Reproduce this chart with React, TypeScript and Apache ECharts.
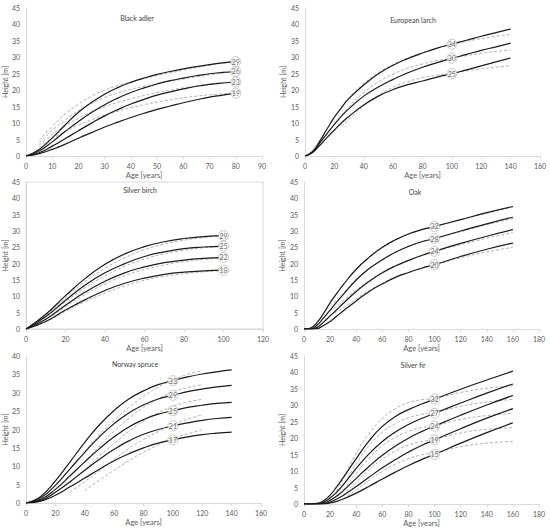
import React, { useEffect, useRef } from "react";
import * as echarts from "echarts";

// ---------- Black adler ----------
const alderAges = [0, 5, 10, 15, 20, 25, 30, 35, 40, 45, 50, 55, 60, 65, 70, 75, 80];
const alderS1 = [0, 2, 5.5, 9.5, 13.3, 16.3, 18.8, 20.8, 22.4, 23.7, 24.8, 25.7, 26.5, 27.2, 27.8, 28.3, 28.7];
const alderS2 = [0, 1.5, 4.3, 7.5, 10.5, 13.2, 15.6, 17.6, 19.3, 20.7, 21.9, 22.9, 23.7, 24.4, 25, 25.4, 25.7];
const alderS3 = [0, 1, 3, 5.3, 7.7, 10, 12.2, 14.1, 15.8, 17.2, 18.5, 19.5, 20.4, 21.2, 21.8, 22.2, 22.5];
const alderS4 = [0, 0.7, 2, 3.6, 5.4, 7.1, 8.8, 10.3, 11.7, 13, 14.2, 15.2, 16.2, 17.1, 17.9, 18.5, 19.1];
const alderDAges = [5, 10, 15, 20, 25, 30, 35, 40, 45, 50, 55, 60, 65, 70, 75, 80];
const alderD1 = [4.8, 9, 12.8, 15.8, 18.2, 20, 21.4, 22.5, 23.5, 24.5, 25.3, 26.1, 26.9, 27.6, 28.2, 28.7];
const alderD2 = [4, 7.8, 11, 13.8, 16, 17.8, 19.2, 20.3, 21.2, 22, 22.7, 23.4, 24.1, 24.7, 25.2, 25.7];
const alderD3 = [3.3, 6.5, 9.2, 11.5, 13.4, 15, 16.3, 17.4, 18.4, 19.3, 20, 20.7, 21.3, 21.9, 22.3, 22.6];
const alderD4 = [2.7, 5.3, 7.5, 9.4, 11, 12.4, 13.6, 14.7, 15.6, 16.4, 17.1, 17.7, 18.2, 18.6, 18.9, 19.1];
const alderLabelAge = 80;
const alderLabels = [29, 26, 23, 19];

// ---------- European larch ----------
const larchAges = [0, 5, 10, 15, 20, 25, 30, 40, 50, 60, 70, 80, 90, 100, 110, 120, 130, 140];
const larchS1 = [0, 1.3, 4.5, 8.2, 11.8, 14.8, 17.5, 21.6, 25, 27.6, 29.6, 31.3, 32.8, 34, 35.2, 36.4, 37.5, 38.6];
const larchS2 = [0, 1.2, 3.9, 6.8, 9.6, 12.2, 14.4, 18.2, 21, 23.3, 25.3, 27, 28.4, 29.7, 30.9, 32.1, 33.2, 34.3];
const larchS3 = [0, 1, 3.2, 5.6, 7.9, 10.1, 12.1, 15.5, 18.2, 20.2, 21.7, 22.8, 24, 25, 26.2, 27.4, 28.6, 29.8];
const larchDAges = [25, 30, 40, 50, 60, 70, 80, 90, 100, 110, 120, 130, 140];
const larchD1 = [15, 17.8, 22, 25.4, 27.8, 29.8, 31.4, 32.8, 33.9, 34.9, 35.7, 36.4, 37];
const larchD2 = [12.5, 15, 19.3, 22.5, 24.9, 26.7, 28, 29, 29.8, 30.5, 31.2, 31.8, 32.3];
const larchD3 = [9, 11.2, 15.3, 18.5, 20.9, 22.6, 23.8, 24.6, 25.2, 25.9, 26.5, 27, 27.5];
const larchLabelAge = 100;
const larchLabels = [34, 30, 25];

// ---------- Silver birch ----------
const birchAges = [0, 10, 20, 30, 40, 50, 60, 70, 80, 90, 100];
const birchS1 = [0, 4.5, 10.2, 15.5, 19.8, 23, 25.2, 26.7, 27.7, 28.3, 28.6];
const birchS2 = [0, 3.8, 8.8, 13.5, 17.2, 20, 22.2, 23.6, 24.6, 25.1, 25.4];
const birchS3 = [0, 3, 7.3, 11.3, 14.6, 17.2, 19, 20.3, 21.1, 21.6, 21.9];
const birchS4 = [0, 2.3, 5.8, 9, 11.8, 14, 15.6, 16.7, 17.4, 17.8, 18];
const birchD1 = [0, 4.2, 9.6, 14.6, 18.6, 21.8, 24.3, 26, 27.2, 28, 28.5];
const birchD2 = [0, 3.6, 8.3, 12.7, 16.2, 19.2, 21.4, 23, 24.1, 24.9, 25.3];
const birchD3 = [0, 2.9, 6.9, 10.6, 13.8, 16.3, 18.2, 19.6, 20.6, 21.3, 21.8];
const birchD4 = [0, 2.2, 5.4, 8.4, 11, 13.2, 14.9, 16.1, 16.9, 17.5, 17.9];
const birchLabelAge = 100;
const birchLabels = [29, 25, 22, 18];

// ---------- Oak ----------
const oakAges = [0, 5, 10, 15, 20, 25, 30, 40, 50, 60, 70, 80, 90, 100, 120, 140, 160];
const oakS1 = [0, 0.3, 2, 4.8, 8, 10.8, 13.5, 18.3, 22, 25, 27.3, 29.1, 30.4, 31.4, 33.5, 35.6, 37.5];
const oakS2 = [0, 0.1, 1.2, 3.4, 5.8, 8.2, 10.5, 15, 18.5, 21.2, 23.5, 25.3, 26.7, 27.7, 30, 32.2, 34.2];
const oakS3 = [0, 0, 0.5, 2.1, 4, 5.9, 7.8, 11.5, 14.6, 17.2, 19.3, 21, 22.5, 23.8, 26.2, 28.4, 30.4];
const oakS4 = [0, 0, 0.1, 1.1, 2.3, 3.9, 5.5, 8.6, 11.5, 13.8, 15.8, 17.3, 18.6, 19.7, 22.2, 24.4, 26.3];
const oakDAges = [20, 25, 30, 40, 50, 60, 70, 80, 90, 100, 120, 140, 160];
const oakD1 = [8.5, 11, 13.6, 18.2, 21.8, 24.8, 27.2, 29, 30.3, 31.3, 33.4, 35.4, 37.3];
const oakD2 = [7, 9, 11, 15.2, 18.6, 21.2, 23.4, 25.2, 26.6, 27.6, 29.8, 31.9, 33.8];
const oakD3 = [5.5, 7, 8.6, 11.9, 14.8, 17.3, 19.3, 21, 22.4, 23.7, 25.8, 27.8, 29.5];
const oakD4 = [4.2, 5.3, 6.5, 9.2, 11.8, 14, 15.9, 17.3, 18.6, 19.6, 21.8, 23.6, 25];
const oakLabelAge = 100;
const oakLabels = [32, 28, 24, 20];

// ---------- Norway spruce ----------
const spruceAges = [0, 10, 20, 30, 40, 50, 60, 70, 80, 90, 100, 110, 120, 130, 140];
const spruceS1 = [0, 1.8, 6, 11.2, 16.5, 21.3, 25.2, 28.3, 30.5, 32.2, 33.3, 34.3, 35.1, 35.7, 36.2];
const spruceS2 = [0, 1.4, 4.8, 9.3, 13.8, 18, 21.6, 24.5, 26.7, 28.3, 29.3, 30.3, 31, 31.6, 32];
const spruceS3 = [0, 1, 3.7, 7.4, 11.2, 14.8, 18, 20.7, 22.7, 24.2, 25.1, 26, 26.6, 27.1, 27.4];
const spruceS4 = [0, 0.7, 2.9, 5.8, 8.9, 11.9, 14.6, 16.9, 18.7, 20, 21, 21.8, 22.5, 23, 23.3];
const spruceS5 = [0, 0.5, 2.1, 4.4, 6.8, 9.2, 11.5, 13.4, 15, 16.3, 17.2, 18, 18.6, 19, 19.3];
const spruceDAges = [30, 40, 50, 60, 70, 80, 90, 100, 110, 120];
const spruceD1 = [null, 14, 18.5, 22.5, 26, 29, 31.5, 33.5, 35, 36];
const spruceD2 = [null, 11, 15.5, 19.5, 23, 26, 28.3, 30.2, 31.4, 32.2];
const spruceD3 = [5.5, 9, 12.8, 16.2, 19.5, 22.3, 24.6, 26.3, 27.5, 28.2];
const spruceD4 = [2.9, 5.8, 8.8, 11.8, 14.8, 17.3, 19.4, 21.2, 22.8, 24];
const spruceD5 = [null, 3.4, 6.2, 8.9, 11.5, 13.8, 15.8, 17.5, 18.8, 19.9];
const spruceLabelAge = 100;
const spruceLabels = [33, 29, 25, 21, 17];

// ---------- Silver fir ----------
const firAges = [0, 10, 15, 20, 25, 30, 40, 50, 60, 70, 80, 90, 100, 120, 140, 160];
const firS1 = [0, 0.2, 1, 2.7, 5.2, 8, 13.8, 19.3, 23.6, 26.6, 28.7, 30.4, 31.9, 34.9, 37.7, 40.4];
const firS2 = [0, 0.1, 0.6, 1.8, 3.6, 5.8, 10.8, 15.3, 19, 21.9, 24.2, 26, 27.6, 30.7, 33.7, 36.5];
const firS3 = [0, 0, 0.3, 1.1, 2.4, 4, 7.8, 11.5, 14.8, 17.6, 20, 22, 23.7, 27, 30.1, 33];
const firS4 = [0, 0, 0.1, 0.6, 1.5, 2.6, 5.3, 8.2, 11, 13.5, 15.8, 17.8, 19.5, 22.9, 26.1, 29];
const firS5 = [0, 0, 0.05, 0.3, 0.8, 1.5, 3.3, 5.4, 7.6, 9.7, 11.7, 13.5, 15.1, 18.5, 21.7, 24.7];
const firDAges = [20, 25, 30, 40, 50, 60, 70, 80, 90, 100, 120, 140, 160];
const firD1 = [null, 4, 7.5, 15.5, 21.5, 26, 29, 30.8, 31.7, 32.1, 33.9, 35.2, 36];
const firD2 = [null, 3, 5.8, 12.2, 17.8, 21.8, 24.5, 26.2, 27.2, 27.8, 29.7, 31, 31.8];
const firD3 = [null, 2, 4.2, 9.3, 14, 17.7, 20.3, 22.1, 23.2, 23.8, 25.7, 26.9, 27.5];
const firD4 = [null, null, 2.7, 6.6, 10.4, 13.6, 16.1, 17.9, 19, 19.7, 21.6, 22.7, 23.2];
const firD5 = [null, null, 1.6, 4.3, 7.2, 9.9, 12.1, 13.8, 14.9, 15.5, 17.4, 18.5, 19];
const firLabelAge = 100;
const firLabels = [32, 27, 24, 19, 15];

type Panel = {
  title: string;
  ages: number[];
  solids: number[][];
  dAges: number[];
  dashed: (number | null)[][];
  labelAge: number;
  labels: number[];
  xMax: number;
  xInterval: number;
  yMax: number;
  grid: { left: number; top: number; width: number; height: number };
  titlePos: [number, number];
  border?: boolean;
};

const panels: Panel[] = [
  { title: "Black adler", ages: alderAges, solids: [alderS1, alderS2, alderS3, alderS4], dAges: alderDAges, dashed: [alderD1, alderD2, alderD3, alderD4], labelAge: alderLabelAge, labels: alderLabels, xMax: 90, xInterval: 10, yMax: 45, grid: { left: 25, top: 8, width: 237, height: 148 }, titlePos: [137, 18] },
  { title: "European larch", ages: larchAges, solids: [larchS1, larchS2, larchS3], dAges: larchDAges, dashed: [larchD1, larchD2, larchD3], labelAge: larchLabelAge, labels: larchLabels, xMax: 160, xInterval: 20, yMax: 45, grid: { left: 305, top: 8, width: 235, height: 148 }, titlePos: [413, 20] },
  { title: "Silver birch", ages: birchAges, solids: [birchS1, birchS2, birchS3, birchS4], dAges: birchAges, dashed: [birchD1, birchD2, birchD3, birchD4], labelAge: birchLabelAge, labels: birchLabels, xMax: 120, xInterval: 20, yMax: 45, grid: { left: 26, top: 182, width: 237, height: 147 }, titlePos: [140, 190], border: true },
  { title: "Oak", ages: oakAges, solids: [oakS1, oakS2, oakS3, oakS4], dAges: oakDAges, dashed: [oakD1, oakD2, oakD3, oakD4], labelAge: oakLabelAge, labels: oakLabels, xMax: 180, xInterval: 20, yMax: 45, grid: { left: 304, top: 182, width: 235, height: 147 }, titlePos: [415, 192] },
  { title: "Norway spruce", ages: spruceAges, solids: [spruceS1, spruceS2, spruceS3, spruceS4, spruceS5], dAges: spruceDAges, dashed: [spruceD1, spruceD2, spruceD3, spruceD4, spruceD5], labelAge: spruceLabelAge, labels: spruceLabels, xMax: 160, xInterval: 20, yMax: 40, grid: { left: 25, top: 356, width: 236, height: 147 }, titlePos: [135, 364] },
  { title: "Silver fir", ages: firAges, solids: [firS1, firS2, firS3, firS4, firS5], dAges: firDAges, dashed: [firD1, firD2, firD3, firD4, firD5], labelAge: firLabelAge, labels: firLabels, xMax: 180, xInterval: 20, yMax: 45, grid: { left: 304, top: 356, width: 235, height: 148 }, titlePos: [413, 365] },
];

const FONT = "Lato, 'Open Sans', sans-serif";
const AXIS_COLOR = "#d9d9d9";
const TEXT_COLOR = "#595959";

function buildOption() {
  const grids: any[] = [];
  const xAxes: any[] = [];
  const yAxes: any[] = [];
  const series: any[] = [];
  const graphics: any[] = [];

  panels.forEach((p, i) => {
    grids.push({
      left: p.grid.left,
      top: p.grid.top,
      width: p.grid.width,
      height: p.grid.height,
      show: !!p.border,
      borderColor: AXIS_COLOR,
      borderWidth: 1,
      backgroundColor: "transparent",
    });
    xAxes.push({
      type: "value",
      gridIndex: i,
      min: 0,
      max: p.xMax,
      interval: p.xInterval,
      name: "Age [years]",
      nameLocation: "middle",
      nameGap: 15,
      nameTextStyle: { fontSize: 7.5, color: TEXT_COLOR, fontFamily: FONT, fontWeight: "normal" },
      axisLine: { show: true, lineStyle: { color: AXIS_COLOR } },
      axisTick: { show: true, length: 3, lineStyle: { color: AXIS_COLOR } },
      axisLabel: { fontSize: 7, color: TEXT_COLOR, fontFamily: FONT, margin: 6 },
      splitLine: { show: false },
    });
    yAxes.push({
      type: "value",
      gridIndex: i,
      min: 0,
      max: p.yMax,
      interval: 5,
      name: "Height [m]",
      nameLocation: "middle",
      nameGap: 14,
      nameRotate: 90,
      nameTextStyle: { fontSize: 7, color: TEXT_COLOR, fontFamily: FONT, fontWeight: "normal" },
      axisLine: { show: true, lineStyle: { color: AXIS_COLOR } },
      axisTick: { show: false },
      axisLabel: { fontSize: 7, color: TEXT_COLOR, fontFamily: FONT, margin: 6 },
      splitLine: { show: false },
    });

    p.dashed.forEach((d) => {
      series.push({
        type: "line",
        xAxisIndex: i,
        yAxisIndex: i,
        smooth: true,
        showSymbol: false,
        symbol: "none",
        silent: true,
        z: 2,
        lineStyle: { color: "#a6a6a6", width: 0.9, type: [3, 2] },
        data: p.dAges.map((a, k) => [a, d[k]]),
      });
    });
    p.solids.forEach((s) => {
      series.push({
        type: "line",
        xAxisIndex: i,
        yAxisIndex: i,
        smooth: true,
        showSymbol: false,
        symbol: "none",
        silent: true,
        z: 3,
        lineStyle: { color: "#1a1a1a", width: 1.2 },
        data: p.ages.map((a, k) => [a, s[k]]),
      });
    });
    const li = p.ages.indexOf(p.labelAge);
    series.push({
      type: "scatter",
      xAxisIndex: i,
      yAxisIndex: i,
      symbol: "circle",
      symbolSize: 10,
      silent: true,
      z: 5,
      itemStyle: { color: "#ffffff", borderColor: "#a8a8a8", borderWidth: 0.8 },
      label: {
        show: true,
        position: "inside",
        fontSize: 7,
        color: "#404040",
        fontFamily: FONT,
        formatter: (pp: any) => String(pp.value[2]),
      },
      data: p.solids.map((s, k) => [p.labelAge, s[li], p.labels[k]]),
    });

    graphics.push({
      type: "text",
      x: p.titlePos[0],
      y: p.titlePos[1],
      style: {
        text: p.title,
        fontSize: 7,
        fill: "#404040",
        fontFamily: FONT,
        textAlign: "center",
        textVerticalAlign: "middle",
      },
    });
  });

  return {
    animation: false,
    backgroundColor: "#ffffff",
    grid: grids,
    xAxis: xAxes,
    yAxis: yAxes,
    series,
    graphic: graphics,
  };
}

export default function App() {
  const ref = useRef<HTMLDivElement>(null);
  useEffect(() => {
    if (!ref.current) return;
    const chart = echarts.init(ref.current, undefined, { renderer: "svg" });
    chart.setOption(buildOption() as any);
    return () => chart.dispose();
  }, []);
  return (
    <div
      ref={ref}
      style={{ position: "fixed", left: 0, top: 0, width: 550, height: 529, background: "#fff" }}
    />
  );
}
